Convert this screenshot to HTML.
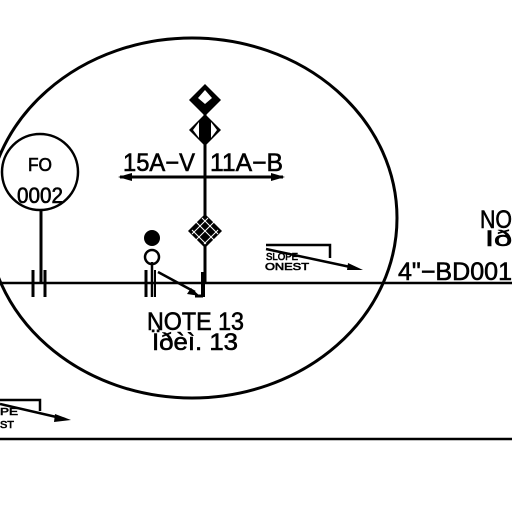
<!DOCTYPE html>
<html><head><style>body{margin:0;background:#fff}svg{display:block}</style></head><body>
<svg width="512" height="512" viewBox="0 0 512 512" xmlns="http://www.w3.org/2000/svg" font-family="Liberation Sans, sans-serif">
<rect width="512" height="512" fill="#fff"/>
<g fill="none" stroke="#000" stroke-width="2.5">
<ellipse cx="192" cy="218" rx="205" ry="180" stroke-width="3"/>
<line x1="0" y1="283" x2="512" y2="283"/>
<line x1="0" y1="439" x2="512" y2="439"/>
<circle cx="40" cy="172" r="38"/>
<line x1="41" y1="210" x2="41" y2="283" stroke-width="3"/>
<line x1="33" y1="270" x2="33" y2="297" stroke-width="3"/>
<line x1="45" y1="270" x2="45" y2="297" stroke-width="3"/>
<line x1="205" y1="88" x2="205" y2="283" stroke-width="3"/>
<line x1="120" y1="177" x2="283" y2="177" stroke-width="3"/>
<line x1="152" y1="262" x2="152" y2="297"/>
<line x1="146" y1="270" x2="146" y2="297" stroke-width="3"/>
<line x1="155" y1="270" x2="155" y2="297" stroke-width="2"/>
<polyline points="158,272 158,272 195,292"/>
<line x1="203" y1="272" x2="203" y2="297" stroke-width="4"/>
<line x1="195" y1="296" x2="203" y2="296" stroke-width="3"/>
<circle cx="152" cy="257" r="7"/>
<polyline points="266,245 330,245 330,258"/>
<line x1="266" y1="249" x2="355" y2="268"/>
<polyline points="0,400 40,400 40,411"/>
<line x1="0" y1="404" x2="65" y2="419"/>
</g>
<g fill="#000">
<polygon points="118,177 132,173 132,181"/>
<polygon points="285,177 271,173 271,181"/>
<polygon points="191,288 200,296 187,294"/>
<polygon points="363,270 348,263 347,270"/>
<polygon points="71,420 55,414 54,422"/>
<circle cx="152" cy="238" r="8"/>
<polygon points="205,84 221,100 205,116 189,100"/>
<polygon points="205,114 221,130 205,146 189,130"/>
<polygon points="205,214 222,231 205,248 188,231"/>
</g>
<g fill="#fff">
<polygon points="205,90 212,98 205,104 198,98"/>
<polygon points="193,130 199,122 199,138"/><polygon points="217,130 211,122 211,138"/>
</g>
<g stroke="#fff" stroke-width="1">
<line x1="196" y1="222" x2="214" y2="240"/><line x1="192" y1="230" x2="206" y2="244"/><line x1="202" y1="218" x2="218" y2="234"/>
<line x1="214" y1="222" x2="196" y2="240"/><line x1="218" y1="230" x2="204" y2="244"/><line x1="208" y1="218" x2="192" y2="234"/>
</g>
<g fill="#000" stroke="#000" stroke-width="0.6">
<text x="40" y="171" font-size="18" text-anchor="middle" textLength="24" lengthAdjust="spacingAndGlyphs">FO</text>
<text x="40" y="203" font-size="22" text-anchor="middle" textLength="46" lengthAdjust="spacingAndGlyphs">0002</text>
<text x="123" y="171" font-size="25" textLength="72" lengthAdjust="spacingAndGlyphs">15A−V</text>
<text x="210" y="171" font-size="25" textLength="73" lengthAdjust="spacingAndGlyphs">11A−B</text>
<text x="147" y="330" font-size="25" textLength="97" lengthAdjust="spacingAndGlyphs">NOTE 13</text>
<text x="152" y="350" font-size="24" textLength="86" lengthAdjust="spacingAndGlyphs">Ïðèì. 13</text>
<text x="398" y="280" font-size="25" textLength="114" lengthAdjust="spacingAndGlyphs">4"−BD001</text>
<text x="480" y="228" font-size="25" textLength="32" lengthAdjust="spacingAndGlyphs">NO</text>
<text x="485" y="246" font-size="22" textLength="27" lengthAdjust="spacingAndGlyphs">Ið</text>
<text x="266" y="260" font-size="10" textLength="32" lengthAdjust="spacingAndGlyphs">SLOPE</text>
<text x="265" y="270" font-size="10" textLength="44" lengthAdjust="spacingAndGlyphs">ONEST</text>
<text x="0" y="415" font-size="10" textLength="18" lengthAdjust="spacingAndGlyphs">PE</text>
<text x="0" y="428" font-size="10" textLength="14" lengthAdjust="spacingAndGlyphs">ST</text>
</g>
</svg>
</body></html>
